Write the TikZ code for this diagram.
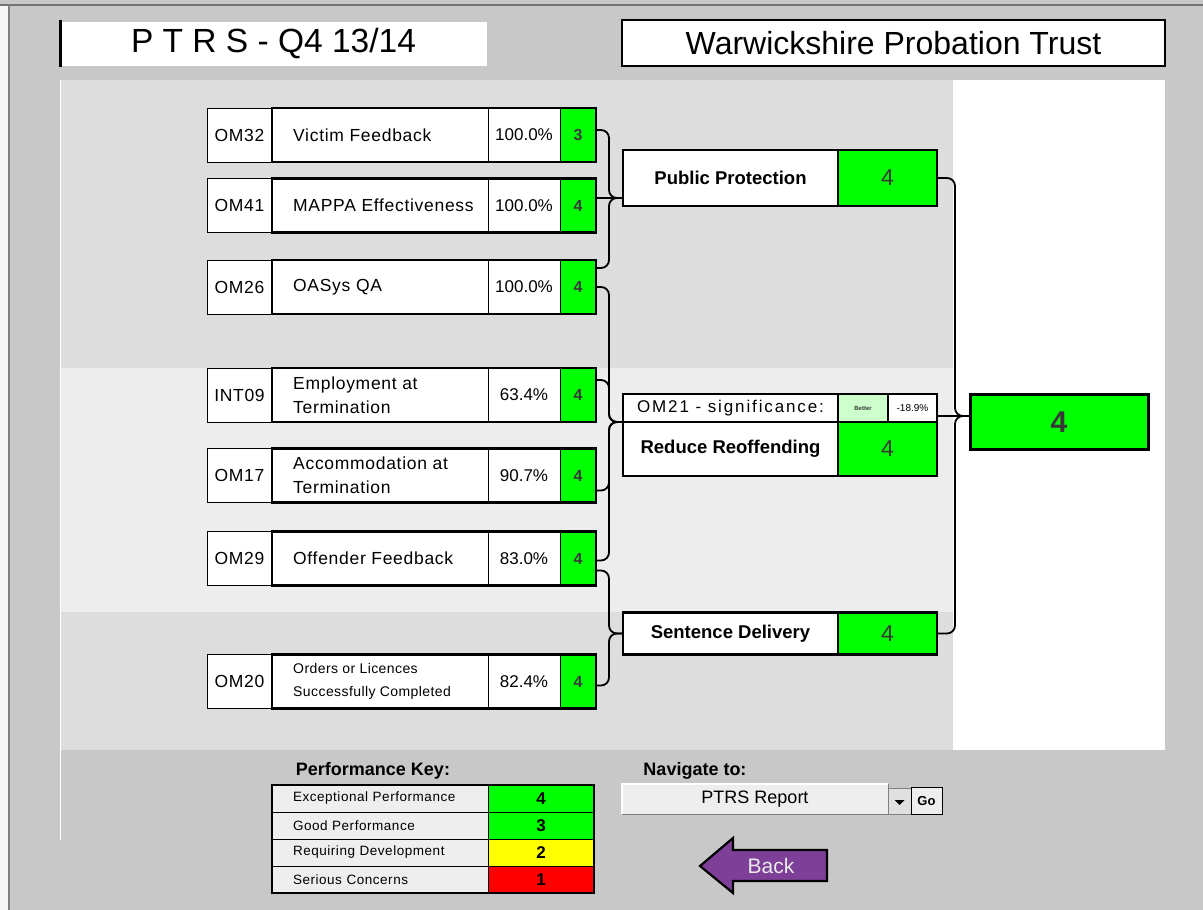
\documentclass[tikz,border=0pt]{standalone}
\usepackage{fontspec}
\setmainfont{Liberation Sans}
\usepackage{xcolor}
\usepackage{tikz}
\usetikzlibrary{positioning, calc}

\definecolor{bggray}{HTML}{C8C8C8}
\definecolor{panelgray}{HTML}{DDDDDD}
\definecolor{bandgray}{HTML}{EDEDED}
\definecolor{xlgreen}{HTML}{00FF00}
\definecolor{xlyellow}{HTML}{FFFF00}
\definecolor{xlred}{HTML}{FF0000}
\definecolor{keygray}{HTML}{EEEEEE}
\definecolor{betterbg}{HTML}{CCFFCC}
\definecolor{scoretext}{HTML}{383838}
\definecolor{backpurple}{HTML}{7D3F98}

\newcommand{\cellfont}{\fontsize{17.5}{24}\selectfont\addfontfeature{LetterSpace=4}}

\tikzset{
    cell/.style={
      draw, %thin grid line
      line width=1pt,
      outer sep=0pt,
      inner sep=0pt,
      minimum height=54pt,
      font=\cellfont,
    },
    codecell/.style={cell, fill=white, minimum width=65pt},
    namecell/.style={cell, fill=white, minimum width=216pt,
      label={[anchor=west, xshift=21pt, inner sep=0pt, align=left, font=\cellfont]west:#1}},
    smallname/.style={cell, fill=white, minimum width=216pt,
      label={[anchor=west, xshift=21pt, inner sep=0pt, align=left,
        font=\fontsize{14}{23}\selectfont\addfontfeature{LetterSpace=3}]west:#1}},
    pctcell/.style={cell, fill=white, minimum width=72pt, font=\fontsize{17}{20}\selectfont},
    scorecell/.style={cell, fill=xlgreen, minimum width=36pt, text=scoretext,
      font=\fontsize{16}{18}\selectfont\bfseries},
    rowframe/.style={draw, line width=2.5pt},
    midlabel/.style={draw, line width=2.5pt, fill=white, outer sep=0pt,
      minimum width=215pt, minimum height=56pt, font=\fontsize{18.5}{20}\selectfont\bfseries},
    midscore/.style={midlabel, fill=xlgreen, minimum width=99pt, text=scoretext,
      font=\fontsize{23}{26}\selectfont},
    sigcell/.style={draw, line width=1.5pt, fill=white, outer sep=0pt,
      minimum height=28pt, inner sep=0pt},
    link/.style={draw, line width=1.8pt, rounded corners=8pt}, %connector
    keylabel/.style={draw, line width=1pt, fill=keygray, outer sep=0pt, inner sep=0pt,
      minimum height=27pt, text width=174pt, inner xsep=21pt, align=left,
      font=\fontsize{13.5}{15}\selectfont\addfontfeature{LetterSpace=4}},
    keyscore/.style={draw, line width=1pt, outer sep=0pt, minimum width=106pt,
      minimum height=27pt, font=\fontsize{17}{18}\selectfont\bfseries},
    titlebox/.style={fill=white, outer sep=0pt},
  }

\begin{document}
\begin{tikzpicture}[x=1pt, y=-1pt]
  \useasboundingbox (0,0) rectangle (1203,910);
  % background and panels
  \fill[bggray] (0,0) rectangle (1203,910);
  \fill[white!85!bggray] (0,5) rectangle (9,910);
  \draw[gray!90!black, line width=2pt] (0,5) -- (1203,5);
  \draw[gray, line width=1.2pt] (9,5) -- (9,910);
  \fill[panelgray] (60,80) rectangle (953,750);
  \fill[bandgray] (60,368) rectangle (953,612);
  \fill[white] (953,80) rectangle (1165,750);
  \draw[white, line width=1pt] (60,80) -- (60,840);

  % titles
  \node[titlebox, minimum width=427pt, minimum height=44pt, font=\fontsize{33.5}{36}\selectfont] (ttl) at (273.5,44) {P T R S - Q4 13/14};
  \draw[line width=3pt] ([yshift=2pt]ttl.north west) -- ([yshift=-1pt]ttl.south west);
  \node[titlebox, draw, line width=2pt, minimum width=543pt, minimum height=46pt, font=\fontsize{32}{34}\selectfont] (trust) at (893.5,43) {Warwickshire Probation Trust};

  % indicators
  \node[codecell] (c32) at (239.5,135) {OM32};
  \node[namecell={Victim Feedback}, right=0pt of c32] (n32) {};
  \node[pctcell, right=0pt of n32] (p32) {100.0\%};
  \node[scorecell, right=0pt of p32] (s32) {3};
  \draw[rowframe] (n32.north west) rectangle (s32.south east);

  \node[codecell] (c41) at (239.5,205.5) {OM41};
  \node[namecell={MAPPA Effectiveness}, right=0pt of c41] (n41) {};
  \node[pctcell, right=0pt of n41] (p41) {100.0\%};
  \node[scorecell, right=0pt of p41] (s41) {4};
  \draw[rowframe] (n41.north west) rectangle (s41.south east);

  \node[codecell] (c26) at (239.5,287) {OM26};
  \node[namecell={OASys QA}, right=0pt of c26] (n26) {};
  \node[pctcell, right=0pt of n26] (p26) {100.0\%};
  \node[scorecell, right=0pt of p26] (s26) {4};
  \draw[rowframe] (n26.north west) rectangle (s26.south east);

  \node[codecell] (c09) at (239.5,395) {INT09};
  \node[namecell={Employment at\\Termination}, right=0pt of c09] (n09) {};
  \node[pctcell, right=0pt of n09] (p09) {63.4\%};
  \node[scorecell, right=0pt of p09] (s09) {4};
  \draw[rowframe] (n09.north west) rectangle (s09.south east);

  \node[codecell] (c17) at (239.5,475.5) {OM17};
  \node[namecell={Accommodation at\\Termination}, right=0pt of c17] (n17) {};
  \node[pctcell, right=0pt of n17] (p17) {90.7\%};
  \node[scorecell, right=0pt of p17] (s17) {4};
  \draw[rowframe] (n17.north west) rectangle (s17.south east);

  \node[codecell] (c29) at (239.5,558.5) {OM29};
  \node[namecell={Offender Feedback}, right=0pt of c29] (n29) {};
  \node[pctcell, right=0pt of n29] (p29) {83.0\%};
  \node[scorecell, right=0pt of p29] (s29) {4};
  \draw[rowframe] (n29.north west) rectangle (s29.south east);

  \node[codecell] (c20) at (239.5,681.5) {OM20};
  \node[smallname={Orders or Licences\\Successfully Completed}, right=0pt of c20] (n20) {};
  \node[pctcell, right=0pt of n20] (p20) {82.4\%};
  \node[scorecell, right=0pt of p20] (s20) {4};
  \draw[rowframe] (n20.north west) rectangle (s20.south east);

  % outcome areas
  \node[midlabel] (pp) at (730.5,178) {Public Protection};
  \node[midscore, right=0pt of pp] (pps) {4};

  \node[sigcell, minimum width=215pt, font=\fontsize{17}{18}\selectfont\addfontfeature{LetterSpace=11}] (om21) at (730.5,408) {OM21 - significance:};
  \node[sigcell, right=0pt of om21, fill=betterbg, minimum width=50pt, text=scoretext, font=\fontsize{6}{7}\selectfont\bfseries] (better) {Better};
  \node[sigcell, right=0pt of better, minimum width=49pt, font=\fontsize{10}{11}\selectfont] (om21p) {-18.9\%};
  \node[midlabel, below=0pt of om21, minimum height=54pt] (rr) {Reduce Reoffending};
  \node[midscore, right=0pt of rr, minimum height=54pt] (rrs) {4};

  \node[midlabel, minimum height=42pt] (sd) at (730.5,633.5) {Sentence Delivery};
  \node[midscore, right=0pt of sd, minimum height=42pt] (sds) {4};

  \node[draw, line width=3pt, fill=xlgreen, outer sep=0pt, minimum width=178pt, minimum height=55pt,
    text=scoretext, font=\fontsize{30}{32}\selectfont\bfseries] (tot) at (1059,422) {4};

  % connectors
  \coordinate (ppin) at ([yshift=8pt]pp.south west);
  \coordinate (rrin) at (rr.north west);
  \coordinate (sdin) at (sd.west);
  \coordinate (totin) at ([yshift=6pt]tot.west);

  \draw[link] ([yshift=5pt]s32.east) -| ($(ppin)+(-14,0)$) -- (ppin);
  \draw[link] (s41.east |- ppin) -- (ppin);
  \draw[link] ([yshift=19pt]s26.east) -| ($(ppin)+(-14,0)$) -- (ppin);
  \draw[link] (s26.east) -| ($(rrin)+(-14,0)$) -- (rrin);
  \draw[link] ([yshift=15pt]s09.east) -| ($(rrin)+(-14,0)$) -- (rrin);
  \draw[link] ([yshift=-15pt]s17.east) -| ($(rrin)+(-14,0)$) -- (rrin);
  \draw[link] ([yshift=-2pt]s29.east) -| ($(rrin)+(-14,0)$) -- (rrin);
  \draw[link] ([yshift=-12pt]s29.east) -| ($(sdin)+(-14,0)$) -- (sdin);
  \draw[link] ([yshift=-4pt]s20.east) -| ($(sdin)+(-14,0)$) -- (sdin);

  \draw[link] (pps.east) -| ($(totin)+(-15,0)$) -- (totin);
  \draw[link] (om21p.east |- totin) -- (totin);
  \draw[link] (sds.east) -| ($(totin)+(-15,0)$) -- (totin);

  % performance key
  \node[font=\fontsize{18}{20}\selectfont\bfseries] (keyttl) at (373,771) {Performance Key:};
  \node[keylabel] (k4) at (380,798.5) {Exceptional Performance};
  \node[keyscore, fill=xlgreen, right=0pt of k4] (k4s) {4};
  \node[keylabel, below=0pt of k4] (k3) {Good Performance};
  \node[keyscore, fill=xlgreen, right=0pt of k3] (k3s) {3};
  \node[keylabel, below=0pt of k3] (k2) {Requiring Development};
  \node[keyscore, fill=xlyellow, right=0pt of k2] (k2s) {2};
  \node[keylabel, below=0pt of k2] (k1) {Serious Concerns};
  \node[keyscore, fill=xlred, right=0pt of k1] (k1s) {1};
  \draw[line width=2.5pt] (k4.north west) rectangle (k1s.south east);

  % navigation
  \node[font=\fontsize{18}{20}\selectfont\bfseries] (navttl) at (695,771) {Navigate to:};
  \node[draw=gray, line width=1pt, fill=keygray, outer sep=0pt, minimum width=266pt, minimum height=30pt,
    font=\fontsize{18}{20}\selectfont] (nav) at (755,799) {PTRS Report};
  \draw[white, line width=2pt] (nav.south west) -- (nav.north west) -- (nav.north east);
  \node[draw=gray, line width=1pt, fill=black!12, outer sep=0pt, minimum width=23pt, minimum height=26pt,
    anchor=west] (navbtn) at ([yshift=-2pt]nav.east) {};
  \fill ([xshift=-5pt,yshift=1pt]navbtn.center) -- ([xshift=5pt,yshift=1pt]navbtn.center)
    -- ([yshift=-4pt]navbtn.center) -- cycle;
  \node[draw, line width=1pt, fill=keygray, outer sep=0pt, minimum width=31pt, minimum height=27pt,
    inner sep=0pt, font=\fontsize{13}{14}\selectfont\bfseries, right=0pt of navbtn] (go) {Go};

  % back button
  \draw[fill=backpurple, line width=2.2pt, line join=miter]
    (700,866) -- (733,838) -- (733,850) -- (827,850) -- (827,881) -- (733,881) -- (733,893) -- cycle;
  \node[text=white!92!black, font=\fontsize{21}{24}\selectfont] (back) at (771,866) {Back};
\end{tikzpicture}
\end{document}
